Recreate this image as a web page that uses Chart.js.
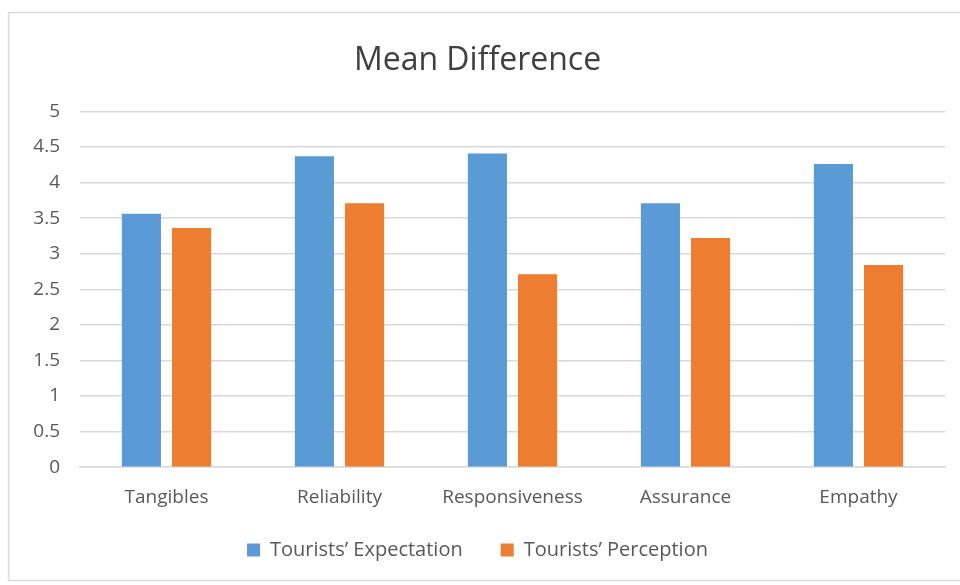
<!DOCTYPE html>
<html>
<head>
<meta charset="utf-8">
<script src="https://cdn.jsdelivr.net/npm/chart.js@4.4.1/dist/chart.umd.min.js"></script>
<style>
    body { margin: 0; background: #fff; }
    #wrap { position: relative; width: 960px; height: 585px; }
</style>
</head>
<body>
<div id="wrap"><canvas id="meanChart"></canvas></div>
<script>
// Chart data
const categories = ['Tangibles', 'Reliability', 'Responsiveness', 'Assurance', 'Empathy'];
const expectation = [3.56, 4.37, 4.41, 3.71, 4.26];
const perception = [3.36, 3.71, 2.71, 3.22, 2.84];
const seriesNames = ['Tourists\u2019 Expectation', 'Tourists\u2019 Perception'];

const fontFamily = '"Open Sans", "Noto Sans", sans-serif';
const textColor = '#595959';
const legendShift = 26; // legend padding is used for both gaps, pull the row up by this much

// Light grey frame around the chart, like the Excel chart border
const framePlugin = {
    id: 'frame',
    beforeInit(chart) {
        // wide gap between legend items, but keep the legend box short
        const origFit = chart.legend.fit;
        chart.legend.fit = function () {
            origFit.call(this);
            this.height -= legendShift;
        };
    },
    afterLayout(chart) {
        chart.legend.top -= legendShift;
    },
    beforeDraw(chart) {
        const ctx = chart.ctx;
        ctx.save();
        ctx.fillStyle = '#ffffff';
        ctx.fillRect(0, 0, chart.width, chart.height);
        ctx.strokeStyle = '#d9d9d9';
        ctx.lineWidth = 1.5;
        ctx.strokeRect(8.5, 12.5, chart.width + 10, chart.height - 17);
        ctx.restore();
    }
};

const ctx = document.getElementById('meanChart').getContext('2d');
new Chart(ctx, {
    type: 'bar',
    data: {
        labels: categories,
        datasets: [{
            label: seriesNames[0],
            data: expectation,
            backgroundColor: '#5b9bd5',
            categoryPercentage: 0.58,
            barPercentage: 0.78
        }, {
            label: seriesNames[1],
            data: perception,
            backgroundColor: '#ed7d31',
            categoryPercentage: 0.58,
            barPercentage: 0.78
        }]
    },
    options: {
        responsive: true,
        maintainAspectRatio: false,
        animation: false,
        layout: {
            padding: { left: 10, right: 15, top: 18, bottom: 15 }
        },
        plugins: {
            title: {
                display: true,
                text: 'Mean Difference',
                color: '#404040',
                font: { family: fontFamily, size: 32, weight: 'normal' },
                padding: { top: 24, bottom: 31 }
            },
            legend: {
                position: 'bottom',
                labels: {
                    color: textColor,
                    font: { family: fontFamily, size: 20 },
                    boxWidth: 13,
                    boxHeight: 13,
                    padding: 38
                }
            },
            tooltip: { enabled: false }
        },
        scales: {
            y: {
                min: 0,
                max: 5,
                ticks: {
                    stepSize: 0.5,
                    color: textColor,
                    padding: 20,
                    font: { family: fontFamily, size: 19 },
                    callback: value => String(value)
                },
                grid: {
                    color: '#d9d9d9',
                    lineWidth: 1.5,
                    drawTicks: false
                },
                border: { display: false },
                afterFit: scale => { scale.width = 70; }
            },
            x: {
                ticks: {
                    color: textColor,
                    padding: 19,
                    font: { family: fontFamily, size: 19 }
                },
                grid: { display: false, drawTicks: false },
                border: { color: '#d9d9d9', width: 1.5 }
            }
        }
    },
    plugins: [framePlugin]
});
</script>
</body>
</html>
